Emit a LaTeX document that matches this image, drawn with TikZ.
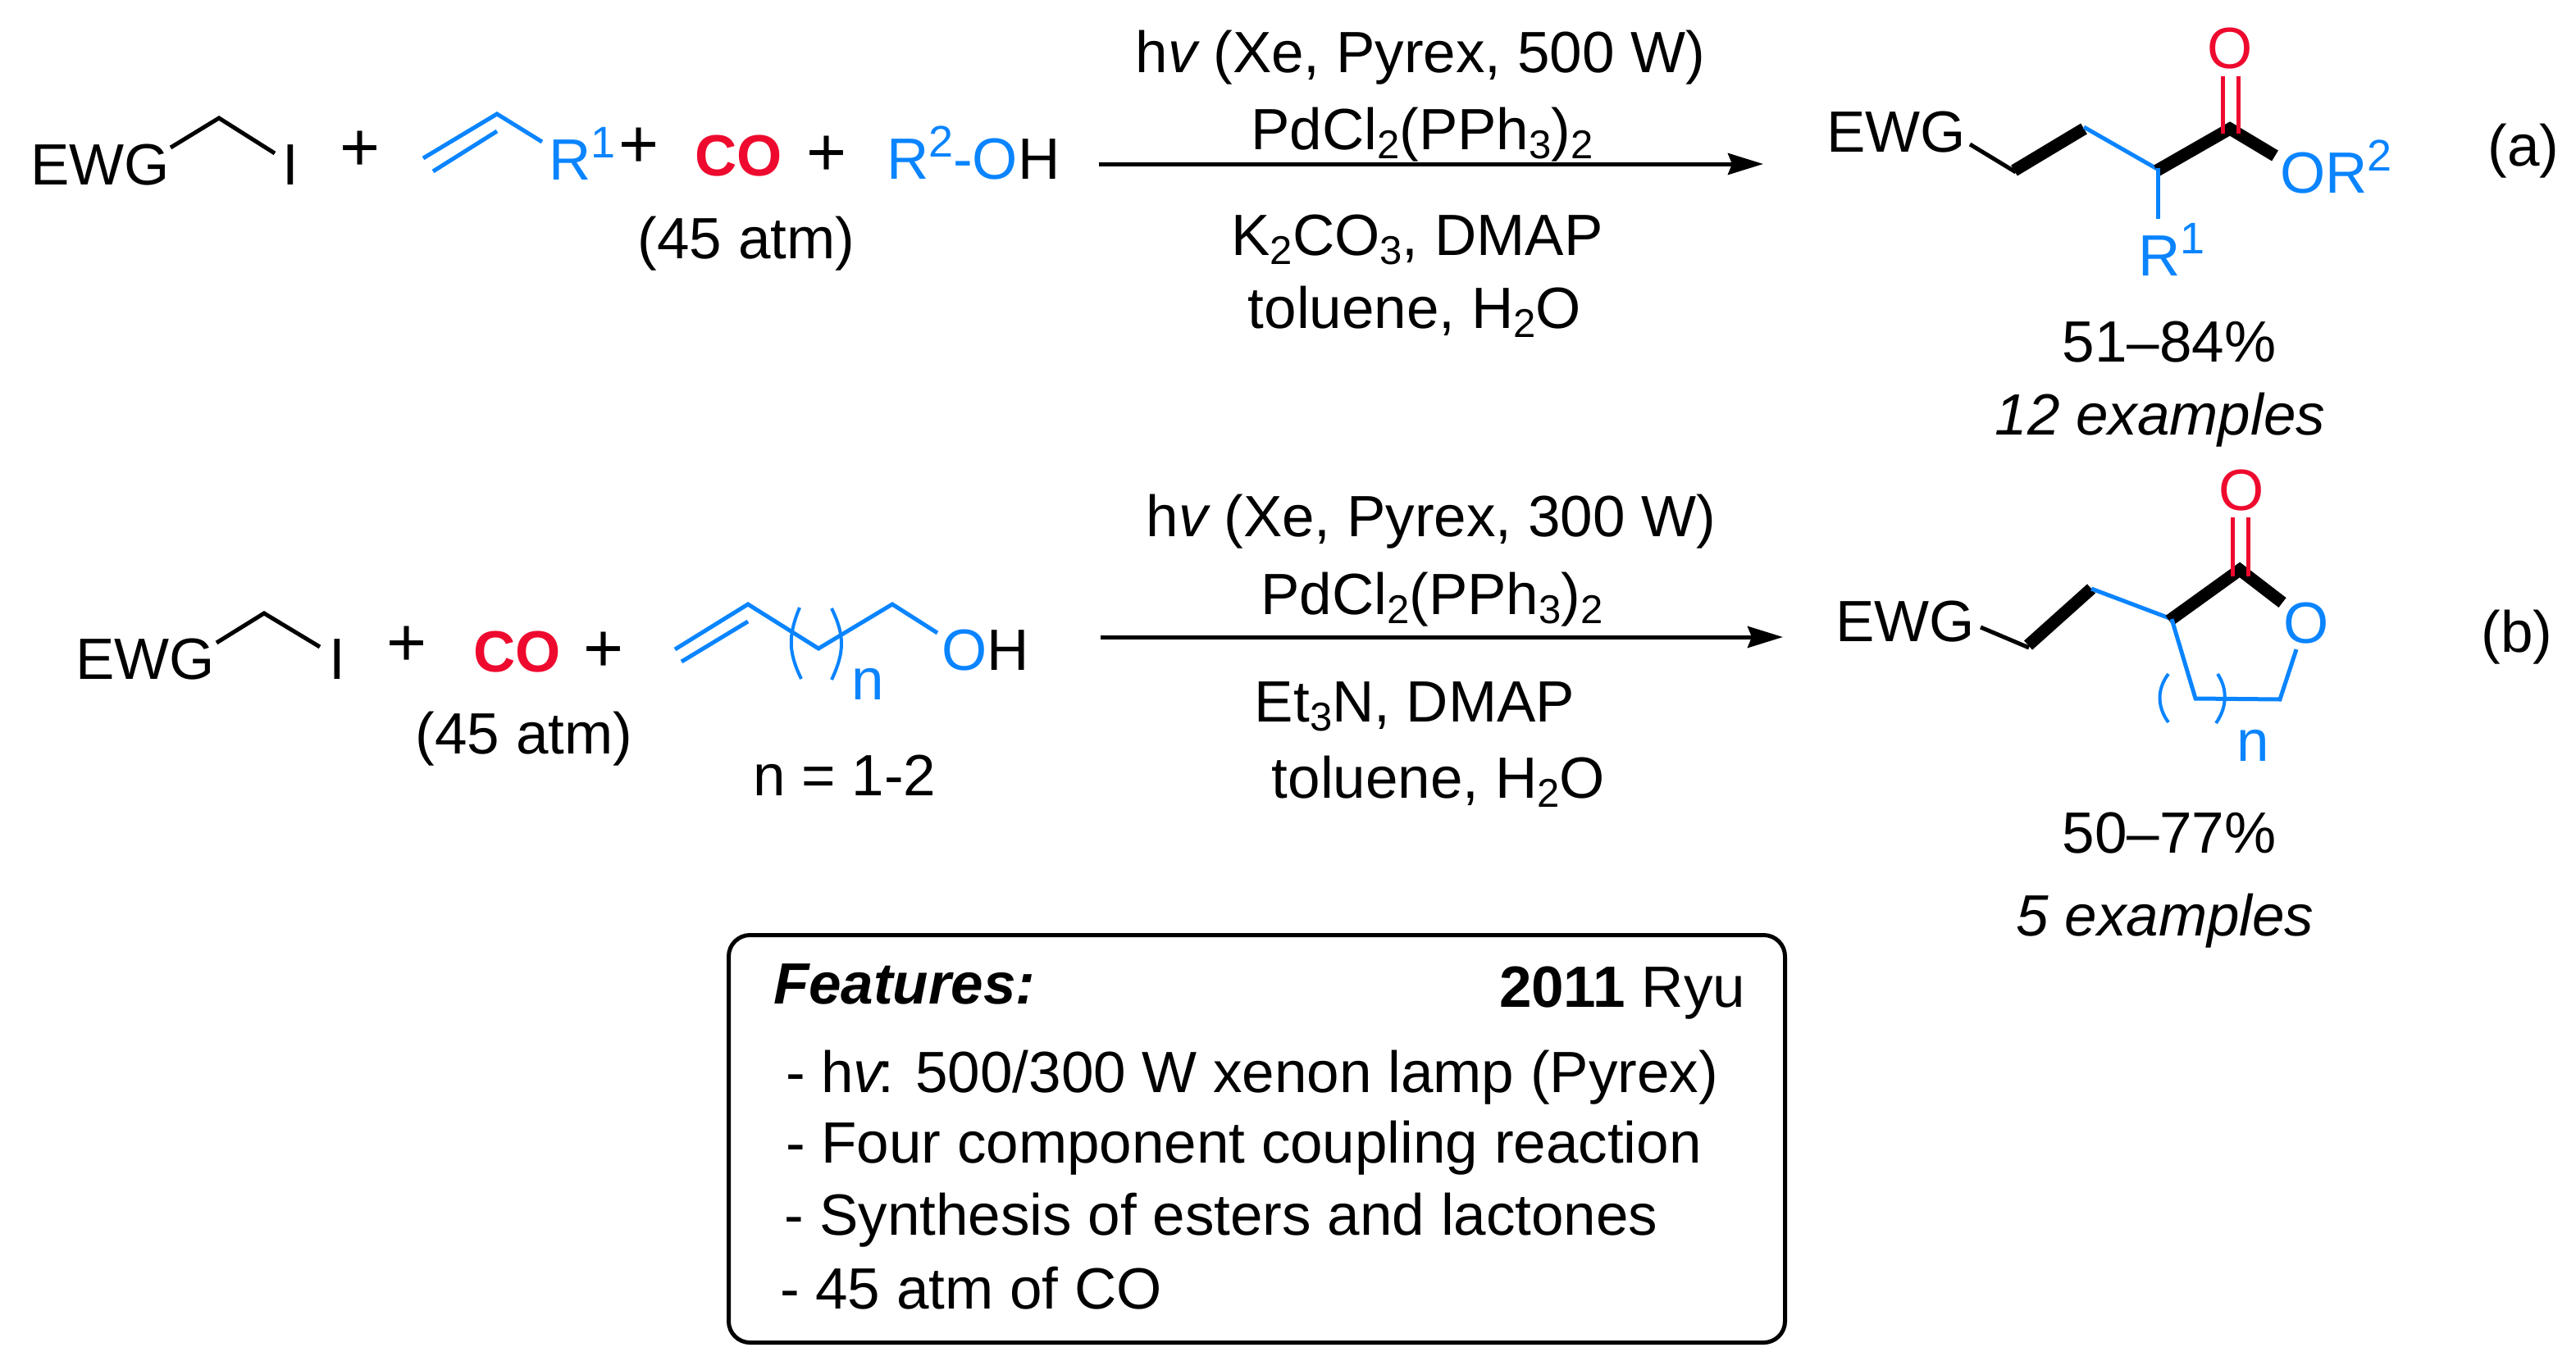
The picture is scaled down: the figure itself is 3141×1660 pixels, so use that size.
\documentclass[tikz,border=0pt]{standalone}
\usepackage{fontspec}
\setmainfont{Liberation Sans}
\usetikzlibrary{arrows.meta}
\definecolor{chemblue}{HTML}{0A84FF}
\definecolor{chemred}{HTML}{EE0A2E}
\newcommand\chsb[1]{\raisebox{-11pt}{\fontsize{49}{49}\selectfont #1}}
\newcommand\chsp[1]{\raisebox{27pt}{\fontsize{54}{54}\selectfont #1}}
\tikzset{
  txt/.style={anchor=base west,inner sep=0pt,outer sep=0pt,font=\fontsize{71}{84}\selectfont},
  ctr/.style={anchor=base,inner sep=0pt,outer sep=0pt,font=\fontsize{71}{84}\selectfont},
  bond/.style={line width=5pt,line cap=butt,line join=miter},
  bluebond/.style={bond,chemblue},
  redbond/.style={bond,chemred},
  heavy/.style={line width=15pt,line cap=butt,line join=miter},
  paren/.style={line width=4pt,chemblue},
  rxnarrow/.style={line width=5pt,-{Stealth[length=43pt,width=26pt,inset=5pt]}},
  plusmark/.style={anchor=center,inner sep=0pt,font=\fontsize{84}{90}\selectfont},
}
\begin{document}
\begin{tikzpicture}[x=1pt,y=-1pt]
\useasboundingbox (0,0) rectangle (3141,1660);
% --- reaction (a) reactants
\node[txt] (aewg) at (37,225) {EWG};
\draw[bond] (208,180) -- (267,144) -- (335,187);
\node[txt] (ai) at (344,225) {I};
\node[plusmark] (ap1) at (439,184) {+};
\draw[bluebond] (516,193) -- (606,139) -- (661,173);
\draw[bluebond] (528,209) -- (606,160);
\node[txt,text=chemblue] (ar1) at (669,219) {R\chsp{1}};
\node[plusmark] (ap2) at (779,180) {+};
\node[txt,text=chemred,font=\fontsize{71}{84}\selectfont\bfseries] (aco) at (847,214) {CO};
\node[plusmark] (ap3) at (1008,190) {+};
\node[txt] (aroh) at (1081,218) {\textcolor{chemblue}{R\chsp{2}-O}H};
\node[ctr] (aatm) at (910,315) {(45 atm)};
% --- conditions (a)
\coordinate (aarrs) at (1340,200);
\coordinate (aarre) at (2150,200);
\draw[rxnarrow] (aarrs) -- (aarre);
\node[ctr] (ac1) at (1732,88) {h{\itshape v} (Xe, Pyrex, 500 W)};
\node[ctr] (ac2) at (1734,182) {PdCl\chsb{2}(PPh\chsb{3})\chsb{2}};
\node[ctr] (ac3) at (1728,311) {K\chsb{2}CO\chsb{3}, DMAP};
\node[ctr] (ac4) at (1725,400) {toluene, H\chsb{2}O};
% --- product (a)
\node[txt] (pewg) at (2227,185) {EWG};
\draw[bond] (2402,176) -- (2458,210);
\draw[heavy] (2456,208) -- (2541,157);
\draw[bluebond] (2541,155) -- (2632,207);
\draw[heavy] (2630,208) -- (2719,157) -- (2774,190);
\draw[redbond] (2710,93) -- (2710,163);
\draw[redbond] (2729,93) -- (2729,163);
\draw[bluebond] (2631,205) -- (2631,267);
\node[ctr,text=chemred] (po) at (2719,83) {O};
\node[txt,text=chemblue] (por) at (2780,235) {OR\chsp{2}};
\node[txt,text=chemblue] (pr1) at (2607,336) {R\chsp{1}};
\node[ctr] (pa) at (3077,202) {(a)};
\node[ctr] (py1) at (2645,441) {51–84\%};
\node[ctr,font=\fontsize{71}{84}\selectfont\itshape] (pe1) at (2634,530) {12 examples};
% --- reaction (b) reactants
\node[txt] (bewg) at (92,828) {EWG};
\draw[bond] (264,784) -- (322,748) -- (390,789);
\node[txt] (bi) at (401,828) {I};
\node[plusmark] (bp1) at (496,788) {+};
\node[txt,text=chemred,font=\fontsize{71}{84}\selectfont\bfseries] (bco) at (577,819) {CO};
\node[plusmark] (bp2) at (736,795) {+};
\draw[bluebond] (823,792) -- (912,737) -- (998,791) -- (1088,737) -- (1143,772);
\draw[bluebond] (831,807) -- (912,758);
\draw[paren] (975,741) .. controls (961,775) and (961,795) .. (977,828);
\draw[paren] (1014,742) .. controls (1030,775) and (1030,795) .. (1014,829);
\node[txt,text=chemblue] (bn1) at (1038,853) {n};
\node[txt] (boh) at (1148,817) {\textcolor{chemblue}{O}H};
\node[ctr] (batm) at (639,919) {(45 atm)};
\node[ctr] (bn12) at (1030,970) {n = 1-2};
% --- conditions (b)
\coordinate (barrs) at (1342,777);
\coordinate (barre) at (2174,777);
\draw[rxnarrow] (barrs) -- (barre);
\node[ctr] (bc1) at (1745,654) {h{\itshape v} (Xe, Pyrex, 300 W)};
\node[ctr] (bc2) at (1746,749) {PdCl\chsb{2}(PPh\chsb{3})\chsb{2}};
\node[ctr] (bc3) at (1725,880) {Et\chsb{3}N, DMAP};
\node[ctr] (bc4) at (1754,973) {toluene, H\chsb{2}O};
% --- product (b)
\node[txt] (qewg) at (2238,782) {EWG};
\draw[bond] (2415,765) -- (2474,790);
\draw[heavy] (2473,787) -- (2550,718);
\draw[bluebond] (2550,718) -- (2648,755);
\draw[heavy] (2645,757) -- (2731,695) -- (2783,735);
\draw[redbond] (2722,631) -- (2722,703);
\draw[redbond] (2741,631) -- (2741,703);
\node[ctr,text=chemred] (qo) at (2733,622) {O};
\node[txt,text=chemblue] (qob) at (2784,784) {O};
\draw[bluebond] (2648,755) -- (2677,852) -- (2780,853) -- (2800,792);
\draw[paren] (2644,822) .. controls (2630,840) and (2630,862) .. (2644,881);
\draw[paren] (2704,822) .. controls (2716,840) and (2716,862) .. (2702,882);
\node[txt,text=chemblue] (qn) at (2727,928) {n};
\node[ctr] (qb) at (3069,795) {(b)};
\node[ctr] (qy) at (2645,1040) {50–77\%};
\node[ctr,font=\fontsize{71}{84}\selectfont\itshape] (qe) at (2640,1141) {5 examples};
% --- features box
\node[draw,line width=5pt,rounded corners=26pt,minimum width=1288pt,minimum height=497pt,inner sep=0pt,anchor=north west] (box) at (886,1138) {};
\node[txt,font=\fontsize{71}{84}\selectfont\bfseries\itshape] (f0) at (943,1224) {Features:};
\node[txt] (f1) at (1828,1228) {\textbf{2011} Ryu};
\node[txt] (f2) at (958,1332) {- h{\itshape v}\kern-6pt: 500/300 W xenon lamp (Pyrex)};
\node[txt] (f3) at (958,1418) {- Four component coupling reaction};
\node[txt] (f4) at (956,1506) {- Synthesis of esters and lactones};
\node[txt] (f5) at (951,1596) {- 45 atm of CO};
\end{tikzpicture}
\end{document}
